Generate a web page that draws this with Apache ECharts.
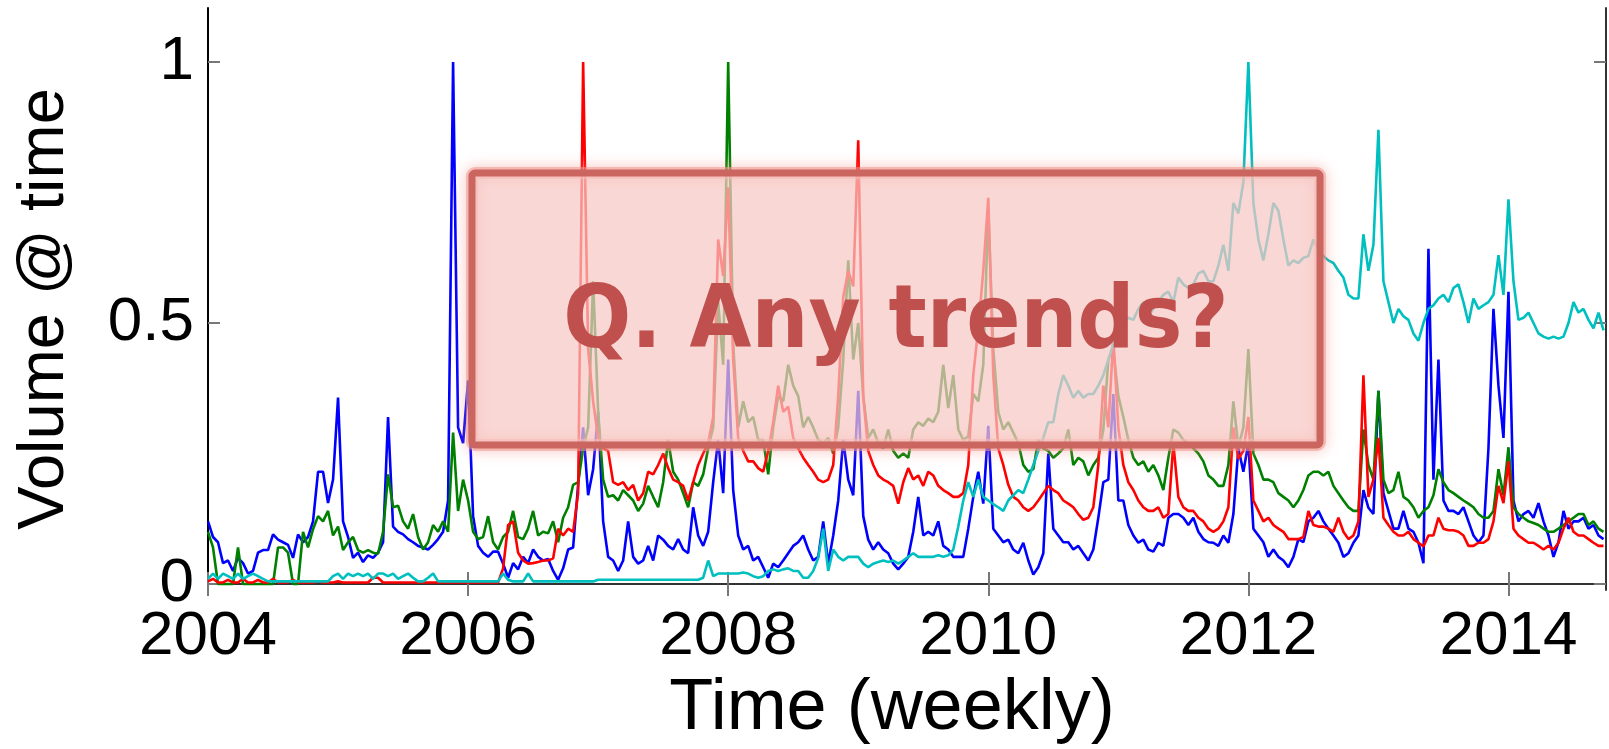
<!DOCTYPE html>
<html>
<head>
<meta charset="utf-8" />
<script src="https://cdn.jsdelivr.net/npm/echarts@6.0.0/dist/echarts.min.js"></script>
<style>
  html, body { margin: 0; padding: 0; background: #fff; }
  #main { width: 1609px; height: 749px; }
</style>
</head>
<body>
<div id="main"></div>
<script>
// weekly search volume, sampled every two weeks from Jan 2004
var blueVol = [
  0.12, 0.09, 0.08, 0.04, 0.045, 0.025, 0.05, 0.04, 0.02, 0.025,
  0.06, 0.065, 0.065, 0.095, 0.085, 0.08, 0.075, 0.05, 0.095, 0.08,
  0.09, 0.12, 0.215, 0.215, 0.155, 0.2, 0.357, 0.12, 0.09, 0.05,
  0.06, 0.042, 0.055, 0.05, 0.06, 0.08, 0.32, 0.11, 0.1, 0.095,
  0.086, 0.08, 0.073, 0.07, 0.066, 0.075, 0.086, 0.1, 0.16, 1.0,
  0.3, 0.27, 0.39, 0.13, 0.073, 0.06, 0.052, 0.062, 0.062, 0.039,
  0.012, 0.04, 0.028, 0.052, 0.04, 0.066, 0.052, 0.045, 0.048, 0.025,
  0.008, 0.03, 0.066, 0.07, 0.19, 0.3, 0.17, 0.22, 0.33, 0.12,
  0.052, 0.045, 0.025, 0.045, 0.12, 0.052, 0.039, 0.045, 0.073, 0.045,
  0.093, 0.085, 0.073, 0.066, 0.086, 0.066, 0.059, 0.147, 0.093, 0.073,
  0.1, 0.195, 0.276, 0.174, 0.43, 0.18, 0.093, 0.066, 0.073, 0.045,
  0.052, 0.032, 0.012, 0.039, 0.032, 0.045, 0.059, 0.073, 0.08, 0.093,
  0.066, 0.045, 0.052, 0.12, 0.039, 0.093, 0.16, 0.276, 0.2, 0.17,
  0.37, 0.13, 0.085, 0.066, 0.08, 0.066, 0.059, 0.039, 0.028, 0.039,
  0.052, 0.1, 0.167, 0.093, 0.1, 0.093, 0.12, 0.073, 0.066, 0.052,
  0.052, 0.052, 0.106, 0.167, 0.215, 0.154, 0.303, 0.106, 0.093, 0.08,
  0.085, 0.066, 0.059, 0.079, 0.045, 0.018, 0.032, 0.059, 0.25, 0.106,
  0.093, 0.08, 0.08, 0.066, 0.073, 0.059, 0.045, 0.066, 0.127, 0.195,
  0.2, 0.364, 0.16, 0.16, 0.113, 0.093, 0.079, 0.085, 0.066, 0.062,
  0.079, 0.073, 0.127, 0.134, 0.134, 0.127, 0.113, 0.127, 0.1, 0.086,
  0.08, 0.079, 0.073, 0.093, 0.079, 0.134, 0.26, 0.215, 0.27, 0.106,
  0.093, 0.08, 0.052, 0.066, 0.052, 0.045, 0.032, 0.052, 0.086, 0.08,
  0.12, 0.127, 0.14, 0.12, 0.106, 0.093, 0.079, 0.052, 0.059, 0.079,
  0.093, 0.18, 0.146, 0.134, 0.37, 0.174, 0.14, 0.106, 0.106, 0.14,
  0.106, 0.1, 0.079, 0.04, 0.642, 0.2, 0.43, 0.16, 0.14, 0.14,
  0.134, 0.147, 0.12, 0.093, 0.08, 0.093, 0.26, 0.527, 0.38, 0.28,
  0.56, 0.16, 0.12, 0.134, 0.14, 0.127, 0.155, 0.12, 0.093, 0.052,
  0.08, 0.14, 0.106, 0.12, 0.12, 0.127, 0.106, 0.113, 0.093, 0.086
];
var greenVol = [
  0.1, 0.07, 0, 0, 0, 0, 0.07, 0, 0, 0,
  0, 0, 0, 0, 0.07, 0.07, 0.06, 0, 0, 0.1,
  0.07, 0.105, 0.13, 0.12, 0.14, 0.093, 0.11, 0.065, 0.08, 0.09,
  0.065, 0.06, 0.065, 0.06, 0.058, 0.1, 0.21, 0.147, 0.15, 0.12,
  0.106, 0.134, 0.09, 0.066, 0.08, 0.113, 0.1, 0.12, 0.1, 0.29,
  0.14, 0.2, 0.16, 0.1, 0.086, 0.09, 0.13, 0.08, 0.066, 0.09,
  0.1, 0.14, 0.09, 0.086, 0.106, 0.14, 0.093, 0.1, 0.097, 0.12,
  0.08, 0.127, 0.147, 0.19, 0.195, 0.26, 0.3, 0.58, 0.33, 0.2,
  0.167, 0.17, 0.16, 0.18, 0.17, 0.16, 0.14, 0.154, 0.188, 0.167,
  0.147, 0.195, 0.276, 0.215, 0.2, 0.174, 0.147, 0.195, 0.188, 0.21,
  0.26, 0.3, 0.54, 0.42, 1.0, 0.46, 0.3, 0.35, 0.31, 0.32,
  0.276, 0.276, 0.21, 0.3, 0.36, 0.35, 0.42, 0.38, 0.36, 0.3,
  0.32, 0.3, 0.276, 0.27, 0.28, 0.25, 0.3, 0.43, 0.62, 0.43,
  0.5, 0.36, 0.28, 0.296, 0.27, 0.26, 0.296, 0.255, 0.242, 0.25,
  0.242, 0.296, 0.31, 0.303, 0.317, 0.31, 0.33, 0.42, 0.337, 0.4,
  0.296, 0.276, 0.283, 0.364, 0.35, 0.42, 0.72, 0.45, 0.33, 0.296,
  0.31, 0.29, 0.27, 0.228, 0.215, 0.22, 0.276, 0.26, 0.255, 0.242,
  0.25, 0.26, 0.296, 0.228, 0.242, 0.235, 0.208, 0.228, 0.242, 0.296,
  0.43, 0.45, 0.36, 0.32, 0.276, 0.242, 0.228, 0.235, 0.215, 0.228,
  0.208, 0.18, 0.242, 0.296, 0.29, 0.276, 0.27, 0.26, 0.25, 0.235,
  0.208, 0.2, 0.188, 0.188, 0.228, 0.35, 0.262, 0.3, 0.45, 0.25,
  0.228, 0.2, 0.2, 0.195, 0.174, 0.167, 0.16, 0.147, 0.16, 0.18,
  0.208, 0.215, 0.215, 0.208, 0.215, 0.188, 0.174, 0.16, 0.147, 0.14,
  0.14, 0.296, 0.228, 0.2, 0.37, 0.2, 0.174, 0.18, 0.215, 0.167,
  0.16, 0.147, 0.127, 0.14, 0.147, 0.17, 0.22, 0.195, 0.18, 0.174,
  0.167, 0.16, 0.154, 0.147, 0.134, 0.127, 0.127, 0.14, 0.22, 0.17,
  0.262, 0.147, 0.134, 0.127, 0.12, 0.117, 0.113, 0.106, 0.1, 0.1,
  0.106, 0.113, 0.12, 0.127, 0.134, 0.134, 0.113, 0.12, 0.106, 0.1
];
var redVol = [
  0.005, 0.01, 0.003, 0.003, 0.008, 0.003, 0.003, 0.01, 0.003, 0.003,
  0.008, 0.003, 0.003, 0.01, 0.003, 0.003, 0.003, 0.008, 0.003, 0.003,
  0.003, 0.003, 0.005, 0.003, 0.003, 0.003, 0.005, 0.003, 0.003, 0.003,
  0.003, 0.003, 0.003, 0.012, 0.012, 0.003, 0.003, 0.003, 0.003, 0.003,
  0.003, 0.003, 0.003, 0.003, 0.003, 0.003, 0.003, 0.003, 0.003, 0.003,
  0.003, 0.003, 0.003, 0.003, 0.003, 0.003, 0.003, 0.003, 0.003, 0.03,
  0.113, 0.12, 0.06, 0.045, 0.039, 0.04, 0.042, 0.045, 0.045, 0.049,
  0.106, 0.093, 0.106, 0.1, 0.174, 1.0, 0.45, 0.35, 0.28, 0.26,
  0.255, 0.195, 0.19, 0.195, 0.18, 0.19, 0.16, 0.174, 0.215, 0.21,
  0.228, 0.25, 0.222, 0.2, 0.195, 0.188, 0.16, 0.195, 0.228, 0.25,
  0.27, 0.32, 0.66, 0.59, 0.76, 0.43, 0.28, 0.255, 0.235, 0.235,
  0.222, 0.215, 0.255, 0.31, 0.38, 0.33, 0.34, 0.28, 0.26, 0.242,
  0.228, 0.215, 0.2, 0.195, 0.2, 0.228, 0.36, 0.55, 0.6, 0.57,
  0.85, 0.36, 0.255, 0.228, 0.208, 0.2, 0.195, 0.188, 0.154, 0.195,
  0.222, 0.2, 0.208, 0.188, 0.215, 0.208, 0.188, 0.18, 0.174, 0.167,
  0.167, 0.174, 0.228, 0.4, 0.49, 0.6, 0.74, 0.4, 0.26, 0.228,
  0.19, 0.167, 0.16, 0.147, 0.14, 0.147, 0.16, 0.174, 0.188, 0.18,
  0.174, 0.16, 0.154, 0.147, 0.134, 0.123, 0.127, 0.147, 0.228, 0.38,
  0.3, 0.47, 0.3, 0.228, 0.195, 0.18, 0.16, 0.147, 0.14, 0.14,
  0.147, 0.127, 0.134, 0.27, 0.167, 0.147, 0.14, 0.14, 0.127, 0.12,
  0.106, 0.1, 0.106, 0.12, 0.147, 0.3, 0.24, 0.255, 0.32, 0.16,
  0.14, 0.12, 0.127, 0.113, 0.106, 0.1, 0.086, 0.086, 0.086, 0.09,
  0.14, 0.113, 0.11, 0.11, 0.106, 0.1, 0.127, 0.1, 0.086, 0.093,
  0.12, 0.4, 0.167, 0.2, 0.28, 0.127, 0.113, 0.1, 0.093, 0.093,
  0.1, 0.086, 0.079, 0.072, 0.093, 0.093, 0.127, 0.106, 0.103, 0.103,
  0.1, 0.093, 0.073, 0.073, 0.079, 0.079, 0.086, 0.12, 0.188, 0.155,
  0.235, 0.106, 0.093, 0.086, 0.079, 0.079, 0.073, 0.066, 0.073, 0.066,
  0.079, 0.106, 0.127, 0.1, 0.093, 0.093, 0.086, 0.079, 0.073, 0.073
];
var cyanVol = [
  0.01, 0.02, 0.01, 0.02, 0.015, 0.01, 0.02, 0.01, 0.015, 0.02,
  0.015, 0.01, 0.005, 0.005, 0.005, 0.005, 0.005, 0.005, 0.005, 0.005,
  0.005, 0.005, 0.005, 0.005, 0.005, 0.015, 0.02, 0.01, 0.02, 0.015,
  0.02, 0.015, 0.02, 0.01, 0.02, 0.02, 0.015, 0.02, 0.01, 0.015,
  0.02, 0.012, 0.005, 0.005, 0.012, 0.02, 0.005, 0.005, 0.005, 0.005,
  0.005, 0.005, 0.005, 0.005, 0.005, 0.005, 0.005, 0.005, 0.005, 0.02,
  0.008, 0.005, 0.005, 0.005, 0.02, 0.005, 0.005, 0.005, 0.005, 0.005,
  0.005, 0.005, 0.005, 0.005, 0.005, 0.005, 0.005, 0.005, 0.008, 0.008,
  0.008, 0.008, 0.008, 0.008, 0.008, 0.008, 0.008, 0.008, 0.008, 0.008,
  0.008, 0.008, 0.008, 0.008, 0.008, 0.008, 0.008, 0.008, 0.008, 0.012,
  0.045, 0.015, 0.02, 0.02, 0.02, 0.02, 0.02, 0.022, 0.02, 0.015,
  0.012, 0.015, 0.025, 0.028, 0.025, 0.028, 0.03, 0.025, 0.025, 0.012,
  0.012, 0.025, 0.05, 0.106, 0.025, 0.066, 0.052, 0.045, 0.052, 0.052,
  0.052, 0.039, 0.032, 0.039, 0.042, 0.045, 0.042, 0.045, 0.039, 0.045,
  0.052, 0.059, 0.052, 0.052, 0.052, 0.052, 0.055, 0.052, 0.055, 0.066,
  0.11, 0.16, 0.195, 0.167, 0.2, 0.167, 0.16, 0.153, 0.147, 0.14,
  0.16, 0.17, 0.18, 0.174, 0.2, 0.228, 0.255, 0.28, 0.31, 0.31,
  0.364, 0.4, 0.38, 0.357, 0.37, 0.357, 0.364, 0.364, 0.38, 0.4,
  0.43, 0.46, 0.48, 0.5, 0.51, 0.506, 0.527, 0.54, 0.513, 0.527,
  0.54, 0.554, 0.56, 0.54, 0.587, 0.574, 0.567, 0.574, 0.595, 0.6,
  0.58, 0.58, 0.61, 0.65, 0.6, 0.73, 0.71, 0.77, 1.0, 0.73,
  0.66, 0.62, 0.67, 0.73, 0.715, 0.66, 0.61, 0.62, 0.615, 0.625,
  0.628, 0.66, 0.64, 0.628, 0.62, 0.615, 0.6, 0.587, 0.554, 0.547,
  0.547, 0.67, 0.6, 0.65, 0.87, 0.58, 0.54, 0.5, 0.527, 0.513,
  0.506, 0.48, 0.466, 0.5, 0.527, 0.534, 0.547, 0.554, 0.54, 0.567,
  0.574, 0.54, 0.5, 0.547, 0.527, 0.534, 0.54, 0.554, 0.63, 0.554,
  0.737, 0.58, 0.506, 0.51, 0.52, 0.5, 0.48, 0.474, 0.47, 0.474,
  0.47, 0.474, 0.5, 0.54, 0.52, 0.527, 0.506, 0.49, 0.52, 0.486
];
var yearTicks = [2004, 2006, 2008, 2010, 2012, 2014];
var volTicks = [0, 0.5, 1];

// time in decimal years, one sample every two weeks
var weeks = [];
for (var i = 0; i < blueVol.length; i++) {
  weeks.push(2004 + i / 26);
}

function pairs(values) {
  var out = [];
  for (var i = 0; i < values.length; i++) {
    out.push([weeks[i], values[i]]);
  }
  return out;
}

var chart = echarts.init(document.getElementById('main'), null, { renderer: 'canvas' });

var labelFont = 'Liberation Sans';
var xMin = 2004, xMax = 2014.75, yMin = -0.0115, yMax = 1.1035;

function lineSeries(name, color, values) {
  return {
    name: name,
    type: 'line',
    data: pairs(values),
    showSymbol: false,
    symbol: 'none',
    lineStyle: { color: color, width: 2.6 },
    itemStyle: { color: color },
    emphasis: { disabled: true }
  };
}

chart.setOption({
  animation: false,
  backgroundColor: '#fff',
  grid: {
    left: 208, right: 3, top: 8, bottom: 159,
    outerBoundsMode: 'none'
  },
  xAxis: [
    {
      type: 'value', position: 'bottom', min: xMin, max: xMax,
      axisLine: { lineStyle: { color: '#000', width: 2 } },
      axisTick: { inside: true, length: 12, customValues: yearTicks,
                  lineStyle: { color: '#777', width: 2 } },
      axisLabel: { customValues: yearTicks, fontSize: 62, fontFamily: labelFont,
                   color: '#000', margin: 16, formatter: function (v) { return String(v); } },
      splitLine: { show: false },
      name: 'Time (weekly)', nameLocation: 'middle', nameGap: 77,
      nameTextStyle: { fontSize: 72, fontFamily: labelFont, color: '#000',
                       padding: [0, 30, 0, 0] }
    },
    {
      type: 'value', position: 'top', min: xMin, max: xMax,
      axisLine: { lineStyle: { color: '#333', width: 2 } },
      axisTick: { inside: true, length: 12, customValues: yearTicks,
                  lineStyle: { color: '#777', width: 2 } },
      axisLabel: { show: false },
      splitLine: { show: false }
    }
  ],
  yAxis: [
    {
      type: 'value', position: 'left', min: yMin, max: yMax,
      axisLine: { show: true, lineStyle: { color: '#000', width: 2 } },
      axisTick: { show: true, inside: true, length: 12, customValues: volTicks,
                  lineStyle: { color: '#777', width: 2 } },
      axisLabel: { customValues: volTicks, fontSize: 62, fontFamily: labelFont,
                   color: '#000', margin: 14 },
      splitLine: { show: false },
      name: 'Volume @ time', nameLocation: 'middle', nameGap: 130,
      nameTextStyle: { fontSize: 65, fontFamily: labelFont, color: '#000',
                       padding: [0, 20, 0, 0] }
    },
    {
      type: 'value', position: 'right', min: yMin, max: yMax,
      axisLine: { show: true, lineStyle: { color: '#333', width: 2 } },
      axisTick: { show: true, inside: true, length: 12, customValues: volTicks,
                  lineStyle: { color: '#777', width: 2 } },
      axisLabel: { show: false },
      splitLine: { show: false }
    }
  ],
  series: [
    lineSeries('blue', '#0000FF', blueVol),
    lineSeries('green', '#008000', greenVol),
    lineSeries('red', '#FF0000', redVol),
    lineSeries('cyan', '#00BFBF', cyanVol)
  ],
  graphic: [
    {
      type: 'rect', z: 100, silent: true,
      shape: { x: 472, y: 173, width: 848, height: 272, r: 3 },
      style: { fill: 'none', stroke: 'rgba(240,150,140,0.55)', lineWidth: 12,
               shadowBlur: 14, shadowColor: 'rgba(240,140,130,0.9)' }
    },
    {
      type: 'rect', z: 101, silent: true,
      shape: { x: 472, y: 173, width: 848, height: 272, r: 3 },
      style: { fill: 'rgba(247,199,195,0.72)', stroke: '#CB6560', lineWidth: 7 }
    },
    {
      type: 'text', z: 102, silent: true,
      x: 896, y: 325, scaleY: 1.08,
      style: { text: 'Q. Any trends?', font: 'bold 80px "DejaVu Sans"',
               fill: '#C0504D', align: 'center', verticalAlign: 'middle' }
    }
  ]
});
</script>
</body>
</html>
